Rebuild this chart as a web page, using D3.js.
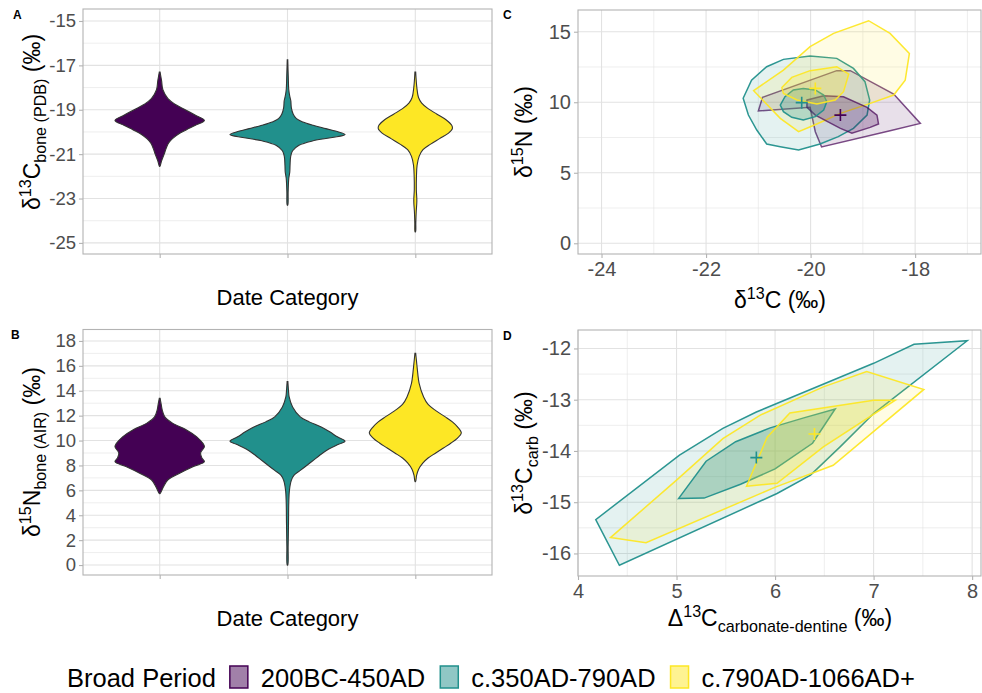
<!DOCTYPE html>
<meta charset="utf-8">
<body style="margin:0;background:#fff">
<svg id="fig" width="982" height="693"></svg>
<script src="https://cdn.jsdelivr.net/npm/d3@7"></script>
<script>
// ---- data ----
const periods = ["200BC-450AD", "c.350AD-790AD", "c.790AD-1066AD+"];
const periodColors = ["#440154", "#21908C", "#FDE725"];

const aTicks = [-15, -17, -19, -21, -23, -25];
const aMinor = [-16, -18, -20, -22, -24];
const bTicks = [0, 2, 4, 6, 8, 10, 12, 14, 16, 18];
const bMinor = [1, 3, 5, 7, 9, 11, 13, 15, 17];
const cXTicks = [-24, -22, -20, -18];
const cXMinor = [-23, -21, -19, -17];
const cYTicks = [0, 5, 10, 15];
const cYMinor = [2.5, 7.5, 12.5];
const dXTicks = [4, 5, 6, 7, 8];
const dXMinor = [4.5, 5.5, 6.5, 7.5];
const dYTicks = [-12, -13, -14, -15, -16];
const dYMinor = [-12.5, -13.5, -14.5, -15.5];

// violin profiles: [value, half width of the density (category units)]
const carbonEarly = [[-17.3,0.003],[-17.7,0.015],[-18.1,0.025],[-18.5,0.065],[-18.75,0.12],[-19.0,0.2],[-19.25,0.28],[-19.48,0.35],[-19.7,0.28],[-19.9,0.21],[-20.05,0.16],[-20.3,0.1],[-20.5,0.07],[-20.75,0.05],[-21.0,0.035],[-21.3,0.015],[-21.55,0.002]];
const carbonMiddle = [[-16.75,0.002],[-17.5,0.006],[-18.1,0.01],[-18.4,0.018],[-18.6,0.026],[-18.9,0.03],[-19.2,0.045],[-19.4,0.07],[-19.55,0.12],[-19.7,0.2],[-19.85,0.3],[-20.0,0.4],[-20.12,0.45],[-20.25,0.35],[-20.4,0.2],[-20.6,0.09],[-20.85,0.04],[-21.1,0.025],[-21.5,0.02],[-21.8,0.018],[-22.1,0.01],[-22.7,0.005],[-23.3,0.002]];
const carbonLate = [[-17.3,0.003],[-18.0,0.012],[-18.45,0.025],[-18.7,0.05],[-18.95,0.1],[-19.2,0.17],[-19.45,0.24],[-19.7,0.285],[-19.85,0.29],[-20.05,0.26],[-20.3,0.19],[-20.55,0.12],[-20.8,0.06],[-21.1,0.03],[-21.5,0.014],[-22.0,0.009],[-22.6,0.008],[-23.1,0.012],[-23.6,0.007],[-24.1,0.004],[-24.5,0.002]];

const nitrogenEarly = [[13.4,0.003],[12.9,0.012],[12.45,0.02],[11.9,0.04],[11.4,0.1],[10.85,0.21],[10.3,0.29],[9.75,0.34],[9.5,0.35],[9.0,0.32],[8.6,0.33],[8.3,0.35],[7.9,0.26],[7.4,0.16],[6.85,0.065],[6.3,0.03],[5.75,0.003]];
const nitrogenMiddle = [[14.73,0.003],[14.0,0.008],[13.5,0.013],[12.7,0.04],[11.9,0.1],[11.5,0.17],[11.1,0.26],[10.7,0.33],[10.3,0.39],[9.95,0.45],[9.7,0.4],[9.3,0.32],[8.8,0.25],[8.4,0.2],[8.0,0.15],[7.6,0.1],[7.2,0.05],[6.8,0.03],[6.0,0.015],[5.0,0.01],[3.4,0.008],[1.5,0.005],[0,0.002]];
const nitrogenLate = [[17.0,0.003],[16.3,0.01],[15.7,0.016],[14.6,0.03],[13.5,0.065],[12.9,0.1],[12.4,0.16],[11.9,0.235],[11.5,0.29],[11.1,0.33],[10.6,0.36],[10.2,0.33],[9.8,0.28],[9.4,0.22],[9.0,0.16],[8.6,0.1],[8.2,0.06],[7.7,0.026],[7.2,0.01],[6.7,0.002]];

// panel C: [d13C, d15N] outlines
const cOuterEarly = [[-21.0,9.38],[-20.92,10.35],[-19.5,12.24],[-19.24,12.24],[-18.41,10.58],[-17.9,8.5],[-18.48,7.98],[-19.79,6.83],[-19.91,7.91],[-20.01,9.64]];
const cInnerEarly = [[-20.07,10.16],[-19.75,10.46],[-19.37,10.39],[-18.92,9.64],[-18.73,9.09],[-18.7,8.46],[-18.86,8.22],[-19.21,7.8],[-19.43,8.15],[-19.91,9.09],[-20.07,9.64]];
const cOuterMiddle = [[-21.29,10.28],[-21.13,11.57],[-20.84,12.52],[-20.52,13.04],[-20.01,13.28],[-19.5,13.11],[-19.18,12.4],[-18.96,11.46],[-18.87,10.16],[-18.92,9.09],[-19.18,8.15],[-19.47,7.56],[-19.82,7.04],[-20.23,6.61],[-20.58,6.85],[-20.84,7.04],[-21.03,8.03],[-21.19,9.09]];
const cInnerMiddle = [[-20.58,9.8],[-20.49,10.39],[-20.33,10.87],[-20.14,10.98],[-19.91,10.87],[-19.75,10.51],[-19.69,10.04],[-19.75,9.45],[-19.91,8.98],[-20.14,8.74],[-20.36,8.93],[-20.52,9.33]];
const cOuterLate = [[-21.09,10.82],[-20.52,12.28],[-20.01,13.94],[-19.56,14.88],[-18.89,15.78],[-18.48,14.88],[-18.11,13.46],[-18.19,11.57],[-18.41,10.51],[-18.86,9.92],[-19.43,9.21],[-19.88,8.46],[-20.23,7.91],[-20.58,8.86]];
const cInnerLate = [[-20.55,11.05],[-20.36,11.76],[-20.01,12.24],[-19.5,12.52],[-19.27,12.0],[-19.37,10.75],[-19.53,10.16],[-19.88,9.87],[-20.26,10.16],[-20.52,10.63]];
const cCentroids = [[-19.43,9.09],[-20.17,9.97],[-19.91,10.98]];

// panel D: [D13C carbonate-dentine, d13C carb] outlines
const dOuterMiddle = [[4.18,-15.34],[4.42,-16.23],[6.02,-14.83],[6.36,-14.47],[6.66,-13.92],[7.0,-13.27],[7.95,-11.85],[7.41,-11.92],[7.0,-12.29],[5.81,-13.24],[5.47,-13.56],[5.03,-14.08]];
const dInnerMiddle = [[5.02,-14.93],[5.28,-14.92],[5.65,-14.65],[6.0,-14.35],[6.38,-13.85],[6.61,-13.18],[6.3,-13.35],[5.95,-13.55],[5.6,-13.82],[5.3,-14.2]];
const dOuterLate = [[4.33,-15.69],[4.69,-15.79],[6.01,-14.7],[6.59,-14.28],[7.51,-12.8],[6.93,-12.45],[6.49,-12.75],[5.85,-13.3],[5.47,-13.76],[5.0,-14.57]];
const dInnerLate = [[5.71,-14.69],[6.02,-14.63],[6.49,-13.92],[7.22,-13.01],[7.0,-13.01],[6.15,-13.26],[5.92,-13.73]];
const dCentroids = [null,[5.81,-14.13],[6.4,-13.67]];

// ---- drawing ----
const svg = d3.select("#fig").style("font-family", "'Liberation Sans', Arial, sans-serif");
const gridCol = "#e2e2e2", borderCol = "#b3b3b3", tickTxt = "#4d4d4d";
const plain = d => String(d);   // ggplot style labels: hyphen minus, no trailing .0

function frame(x, y, xMaj, xMin, yMaj, yMin) {
  const [l, r] = x.range(), [b, t] = y.range();
  const g = svg.append("g");
  yMin.forEach(v => g.append("line").attr("x1", l).attr("x2", r).attr("y1", y(v)).attr("y2", y(v)).attr("stroke", gridCol).attr("stroke-width", 0.6));
  xMin.forEach(v => g.append("line").attr("y1", t).attr("y2", b).attr("x1", x(v)).attr("x2", x(v)).attr("stroke", gridCol).attr("stroke-width", 0.6));
  yMaj.forEach(v => g.append("line").attr("x1", l).attr("x2", r).attr("y1", y(v)).attr("y2", y(v)).attr("stroke", gridCol).attr("stroke-width", 1.1));
  xMaj.forEach(v => g.append("line").attr("y1", t).attr("y2", b).attr("x1", x(v)).attr("x2", x(v)).attr("stroke", gridCol).attr("stroke-width", 1.1));
  return g;
}

function border(x, y) {
  const [l, r] = x.range(), [b, t] = y.range();
  svg.append("rect").attr("x", l).attr("y", t).attr("width", r - l).attr("height", b - t)
    .attr("fill", "none").attr("stroke", borderCol).attr("stroke-width", 1.1);
}

function yAxis(y, x0, ticks, size) {
  const g = svg.append("g").attr("transform", `translate(${x0},0)`);
  g.call(d3.axisLeft(y).tickValues(ticks).tickFormat(plain).tickSize(4).tickPadding(3));
  g.select(".domain").remove();
  g.selectAll("line").attr("stroke", borderCol).attr("stroke-width", 1.1);
  g.selectAll("text").attr("fill", tickTxt).style("font-size", size + "px").style("font-family", "inherit");
}

function xAxis(x, y0, ticks, size, showLabels) {
  const ax = d3.axisBottom(x).tickSize(4).tickPadding(4);
  if (ticks) ax.tickValues(ticks).tickFormat(plain);
  const g = svg.append("g").attr("transform", `translate(0,${y0})`).call(ax);
  g.select(".domain").remove();
  g.selectAll("line").attr("stroke", borderCol).attr("stroke-width", 1.1);
  if (showLabels) g.selectAll("text").attr("fill", tickTxt).style("font-size", size + "px").style("font-family", "inherit");
  else g.selectAll("text").remove();
}

// rich text with super/subscripts
function rich(g, parts, size) {
  const t = g.append("text").attr("font-size", size).attr("fill", "#000").style("white-space", "pre");
  let shift = 0;
  parts.forEach(p => {
    const target = p.sup ? -0.4 * size : p.sub ? 0.28 * size : 0;
    t.append("tspan").attr("dy", target - shift).attr("font-size", p.sup || p.sub ? size * 0.7 : size).text(p.t);
    shift = target;
  });
  return t;
}
function yTitle(parts, cx, cy, size) {
  const g = svg.append("g").attr("transform", `translate(${cx},${cy}) rotate(-90)`);
  rich(g, parts, size).attr("text-anchor", "middle");
}
function xTitle(parts, cx, by, size) {
  const g = svg.append("g").attr("transform", `translate(${cx},${by})`);
  rich(g, parts, size).attr("text-anchor", "middle");
}
function tag(txt, x, y) {
  svg.append("text").attr("x", x).attr("y", y).attr("font-size", 12).attr("font-weight", "bold").text(txt);
}

// ---- panels A and B: violins ----
const xCat = d3.scalePoint().domain(periods).range([83, 492]).padding(0.6);
const catUnit = xCat.step();
const line = d3.line().curve(d3.curveCatmullRom.alpha(0.5));

function drawViolins(y, profiles) {
  profiles.forEach((prof, i) => {
    const cx = xCat(periods[i]);
    const right = prof.map(([v, w]) => [cx + w * catUnit, y(v)]);
    const left = prof.slice().reverse().map(([v, w]) => [cx - w * catUnit, y(v)]);
    svg.append("path").attr("d", line(right.concat(left)) + "Z")
      .attr("fill", periodColors[i]).attr("stroke", "#333").attr("stroke-width", 1.1);
  });
}

const yA = d3.scaleLinear().domain([-25.5, -14.46]).range([254, 9]);
const yB = d3.scaleLinear().domain([-0.8, 18.92]).range([575, 329.5]);

frame(xCat, yA, periods, [], aTicks, aMinor);
drawViolins(yA, [carbonEarly, carbonMiddle, carbonLate]);
border(xCat, yA);
yAxis(yA, 83, aTicks, 18.5);
xAxis(xCat, 254, null, 18.5, false);

frame(xCat, yB, periods, [], bTicks, bMinor);
drawViolins(yB, [nitrogenEarly, nitrogenMiddle, nitrogenLate]);
border(xCat, yB);
yAxis(yB, 83, bTicks, 18.5);
xAxis(xCat, 575, null, 18.5, false);

xTitle([{t: "Date Category"}], 287.5, 305, 22);
xTitle([{t: "Date Category"}], 287.5, 626, 22);
yTitle([{t: "δ"}, {t: "13", sup: true}, {t: "C"}, {t: "bone (PDB)", sub: true}, {t: " (‰)"}], 40, 122, 23);
yTitle([{t: "δ"}, {t: "15", sup: true}, {t: "N"}, {t: "bone (AIR)", sub: true}, {t: " (‰)"}], 40, 452, 23);

// ---- panels C and D: niche outlines ----
const xC = d3.scaleLinear().domain([-24.45, -16.74]).range([578, 981]);
const yC = d3.scaleLinear().domain([-0.76, 16.54]).range([254, 10]);
const xD = d3.scaleLinear().domain([4.0, 8.09]).range([578, 981]);
const yD = d3.scaleLinear().domain([-16.44, -11.64]).range([576, 330]);

const closed = d3.line().curve(d3.curveLinearClosed);
function hull(x, y, pts, i, alpha) {
  svg.append("path").attr("d", closed(pts.map(([a, b]) => [x(a), y(b)])))
    .attr("fill", periodColors[i]).attr("fill-opacity", alpha)
    .attr("stroke", periodColors[i]).attr("stroke-opacity", i === 0 ? 0.7 : 0.95).attr("stroke-width", 1.5);
}
function cross(x, y, c, i) {
  if (!c) return;
  const px = x(c[0]), py = y(c[1]);
  svg.append("path").attr("d", `M${px - 6},${py}H${px + 6}M${px},${py - 6}V${py + 6}`)
    .attr("stroke", periodColors[i]).attr("stroke-width", 1.6);
}

frame(xC, yC, cXTicks, cXMinor, cYTicks, cYMinor);
hull(xC, yC, cOuterEarly, 0, 0.12);
hull(xC, yC, cOuterMiddle, 1, 0.12);
hull(xC, yC, cOuterLate, 2, 0.12);
hull(xC, yC, cInnerEarly, 0, 0.25);
hull(xC, yC, cInnerMiddle, 1, 0.25);
hull(xC, yC, cInnerLate, 2, 0.25);
cCentroids.forEach((c, i) => cross(xC, yC, c, i));
border(xC, yC);
yAxis(yC, 578, cYTicks, 20);
xAxis(xC, 254, cXTicks, 20, true);

frame(xD, yD, dXTicks, dXMinor, dYTicks, dYMinor);
hull(xD, yD, dOuterMiddle, 1, 0.12);
hull(xD, yD, dOuterLate, 2, 0.12);
hull(xD, yD, dInnerMiddle, 1, 0.3);
hull(xD, yD, dInnerLate, 2, 0.25);
dCentroids.forEach((c, i) => cross(xD, yD, c, i));
border(xD, yD);
yAxis(yD, 578, dYTicks, 20);
xAxis(xD, 576, dXTicks, 20, true);

xTitle([{t: "δ"}, {t: "13", sup: true}, {t: "C (‰)"}], 780, 308, 23);
xTitle([{t: "Δ"}, {t: "13", sup: true}, {t: "C"}, {t: "carbonate-dentine", sub: true}, {t: " (‰)"}], 780, 626, 23);
yTitle([{t: "δ"}, {t: "15", sup: true}, {t: "N (‰)"}], 532, 132, 23);
yTitle([{t: "δ"}, {t: "13", sup: true}, {t: "C"}, {t: "carb", sub: true}, {t: " (‰)"}], 532, 453, 23);

tag("A", 13, 19); tag("B", 11, 339); tag("C", 503, 19); tag("D", 503, 340);

// ---- legend ----
const leg = svg.append("g").attr("font-size", 25.5);
let lx = 67;
const title = leg.append("text").attr("x", lx).attr("y", 687).text("Broad Period");
lx += title.node().getComputedTextLength() + 14;
periods.forEach((p, i) => {
  leg.append("rect").attr("x", lx).attr("y", 666).attr("width", 18).attr("height", 22)
    .attr("fill", periodColors[i]).attr("fill-opacity", 0.5)
    .attr("stroke", periodColors[i]).attr("stroke-width", 1.5);
  lx += 31;
  const t = leg.append("text").attr("x", lx).attr("y", 687).text(p);
  lx += t.node().getComputedTextLength() + 15;
});
</script>
</body>
